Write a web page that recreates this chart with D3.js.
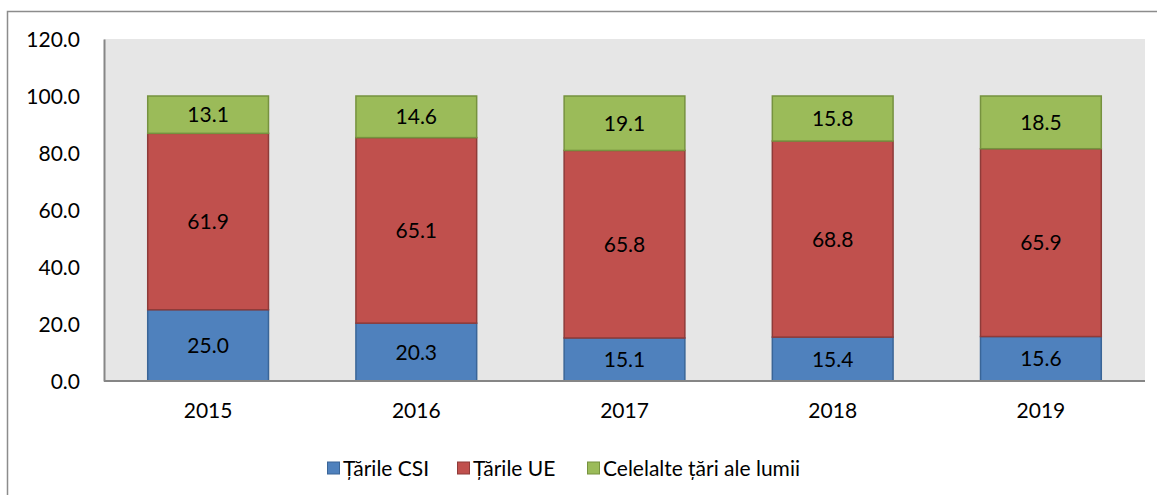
<!DOCTYPE html>
<html>
<head>
<meta charset="utf-8">
<script src="https://cdn.jsdelivr.net/npm/d3@7"></script>
<style>
  body { margin: 0; background: #fff; }
  text { font-family: Lato, "Open Sans", sans-serif; fill: #000; }
</style>
</head>
<body>
<div id="chart"></div>
<script>
// data
const years = ['2015', '2016', '2017', '2018', '2019'];
const seriesNames = ['Țările CSI', 'Țările UE', 'Celelalte țări ale lumii'];
const csi = [25.0, 20.3, 15.1, 15.4, 15.6];
const ue = [61.9, 65.1, 65.8, 68.8, 65.9];
const other = [13.1, 14.6, 19.1, 15.8, 18.5];
const yTicks = [0, 20, 40, 60, 80, 100, 120];

const fills = ['#4f81bd', '#c0504d', '#9bbb59'];
const strokes = ['#3a6597', '#8e3b39', '#76923f'];

const width = 1157, height = 495;
const margin = {top: 39, right: 12, bottom: 114, left: 104};
const innerW = width - margin.left - margin.right;
const innerH = height - margin.top - margin.bottom;

const svg = d3.select('#chart').append('svg')
    .attr('width', width)
    .attr('height', height);

// outer chart border
svg.append('rect')
    .attr('x', 7.5).attr('y', 11.5)
    .attr('width', width + 20).attr('height', height + 20)
    .attr('fill', 'none')
    .attr('stroke', '#8c8c8c')
    .attr('stroke-width', 1.5);

const g = svg.append('g').attr('transform', `translate(${margin.left},${margin.top})`);

g.append('rect')
    .attr('width', innerW).attr('height', innerH)
    .attr('fill', '#e6e6e6');

const x = d3.scaleBand().domain(years).range([0, innerW]).paddingInner(0.42).paddingOuter(0.21);
const y = d3.scaleLinear().domain([0, 120]).range([innerH, 0]);

// stack data
const rows = years.map((yr, i) => ({year: yr, s0: csi[i], s1: ue[i], s2: other[i]}));
const stacked = d3.stack().keys(['s0', 's1', 's2'])(rows);

const layers = g.selectAll('.layer')
    .data(stacked)
    .join('g')
    .attr('class', 'layer');

layers.selectAll('rect')
    .data((d, i) => d.map(v => ({v, i})))
    .join('rect')
    .attr('x', d => x(d.v.data.year))
    .attr('width', x.bandwidth())
    .attr('y', d => y(d.v[1]))
    .attr('height', d => y(d.v[0]) - y(d.v[1]))
    .attr('fill', d => fills[d.i])
    .attr('stroke', d => strokes[d.i])
    .attr('stroke-width', 1.5);

layers.selectAll('text')
    .data(d => d)
    .join('text')
    .attr('x', d => x(d.data.year) + x.bandwidth() / 2)
    .attr('y', d => (y(d[0]) + y(d[1])) / 2)
    .attr('dy', '0.36em')
    .attr('text-anchor', 'middle')
    .style('font-size', '21px')
    .text(d => (d[1] - d[0]).toFixed(1));

// axes
const yAxis = d3.axisLeft(y).tickValues(yTicks).tickSize(0).tickPadding(24).tickFormat(d3.format('.1f'));
const yAxisG = g.append('g').call(yAxis);
yAxisG.select('.domain').attr('stroke', '#868686').attr('stroke-width', 2);
yAxisG.selectAll('text').style('font-size', '21px').attr('dy', '0.36em');

const xAxis = d3.axisBottom(x).tickSize(0).tickPadding(22);
const xAxisG = g.append('g').attr('transform', `translate(0,${innerH})`).call(xAxis);
xAxisG.select('.domain').attr('stroke', '#868686').attr('stroke-width', 2).attr('d', `M0,0H${innerW}`);
xAxisG.selectAll('text').style('font-size', '21px').attr('dy', '0.71em');

// legend
const legendX = [327, 457, 587];
const legend = svg.append('g').attr('transform', 'translate(0,468)');
const item = legend.selectAll('g')
    .data(seriesNames)
    .join('g')
    .attr('transform', (d, i) => `translate(${legendX[i]},0)`);
item.append('rect')
    .attr('x', 0.5).attr('y', -6)
    .attr('width', 12).attr('height', 12)
    .attr('fill', (d, i) => fills[i])
    .attr('stroke', (d, i) => strokes[i]);
item.append('text')
    .attr('x', 16)
    .attr('dy', '0.36em')
    .style('font-size', '21px')
    .text(d => d);
</script>
</body>
</html>
